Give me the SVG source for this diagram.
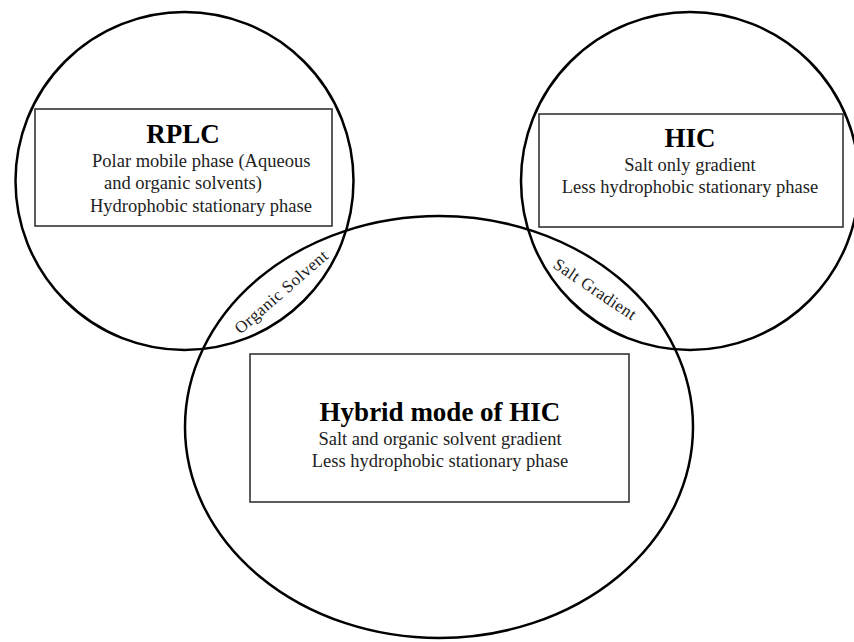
<svg xmlns="http://www.w3.org/2000/svg" width="854" height="642" viewBox="0 0 854 642">
  <style>
    .ring { fill: none; stroke: #000; stroke-width: 2.5; }
    .box { fill: #fff; stroke: #333; stroke-width: 1.6; }
    .title { font-family: "Liberation Serif", "Times New Roman", serif; font-weight: bold; font-size: 27px; fill: #000; text-anchor: middle; }
    .body { font-family: "Liberation Serif", "Times New Roman", serif; font-size: 18.5px; fill: #222; }
    .mid { text-anchor: middle; }
    .lens { font-family: "Liberation Serif", "Times New Roman", serif; font-size: 17px; fill: #222; text-anchor: middle; letter-spacing: 0.5px; }
  </style>
  <rect x="0" y="0" width="854" height="642" fill="#fff"/>

  <g id="node-rplc">
    <circle class="ring" cx="184.5" cy="181" r="169"/>
    <rect class="box" x="35" y="109" width="297" height="117"/>
    <text class="title" x="183" y="143">RPLC</text>
    <text class="body" x="92" y="167">Polar mobile phase (Aqueous</text>
    <text class="body" x="104" y="189">and organic solvents)</text>
    <text class="body" x="90" y="212">Hydrophobic stationary phase</text>
  </g>

  <g id="node-hic">
    <circle class="ring" cx="690" cy="181" r="169"/>
    <rect class="box" x="539" y="114" width="304" height="113"/>
    <text class="title" x="690" y="147">HIC</text>
    <text class="body mid" x="690" y="171">Salt only gradient</text>
    <text class="body mid" x="690" y="193">Less hydrophobic stationary phase</text>
  </g>

  <g id="node-hybrid">
    <ellipse class="ring" cx="439" cy="427" rx="254" ry="211"/>
    <rect class="box" x="250" y="354" width="379" height="148"/>
    <text class="title" x="440" y="421">Hybrid mode of HIC</text>
    <text class="body mid" x="440" y="445">Salt and organic solvent gradient</text>
    <text class="body mid" x="440" y="467">Less hydrophobic stationary phase</text>
  </g>

  <g id="label-organic-solvent">
    <text class="lens" transform="translate(285,296) rotate(-41)">Organic Solvent</text>
  </g>

  <g id="label-salt-gradient">
    <text class="lens" transform="translate(592,294) rotate(34)">Salt Gradient</text>
  </g>
</svg>
